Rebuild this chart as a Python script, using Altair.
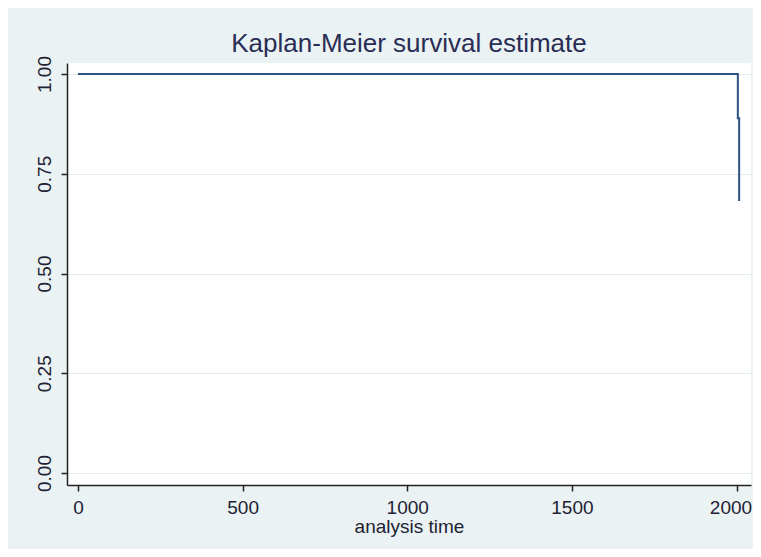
import altair as alt
import pandas as pd

# Kaplan-Meier step data
times = [0, 2004, 2008]
survival = [1.0, 0.889, 0.682]

x_ticks = [0, 500, 1000, 1500, 2000]
y_ticks = [0.0, 0.25, 0.50, 0.75, 1.00]

df = pd.DataFrame({"t": times, "s": survival})

FONT = "Liberation Sans"
TXT = "#222233"
AX = "#222222"

line = alt.Chart(df).mark_line(
    interpolate="step-after", color="#2c5381", strokeWidth=2
).encode(
    x=alt.X(
        "t:Q",
        scale=alt.Scale(domain=[-33.4, 2044], nice=False, zero=False),
        axis=alt.Axis(
            values=x_ticks,
            format="d",
            labelOffset={"condition": {"test": "datum.value == 2000", "value": -6}, "value": 0},
            title="analysis time",
            grid=False,
            tickSize=6,
            labelPadding=7,
            labelFontSize=19,
            labelFont=FONT,
            labelColor=TXT,
            titleFontSize=19,
            titleFont=FONT,
            titleFontWeight="normal",
            titleColor=TXT,
            titleBaseline="alphabetic",
            titleY=47,
            domainColor=AX,
            domainWidth=1.5,
            tickColor=AX,
            tickWidth=1.5,
        ),
    ),
    y=alt.Y(
        "s:Q",
        scale=alt.Scale(domain=[-0.03, 1.0276], nice=False, zero=False),
        axis=alt.Axis(
            values=y_ticks,
            format=".2f",
            title=None,
            grid=True,
            gridColor="#E3ECEC",
            gridWidth=1,
            tickSize=6,
            labelAngle=270,
            labelAlign="center",
            labelBaseline="alphabetic",
            labelPadding=11,
            labelFontSize=19,
            labelFont=FONT,
            labelColor=TXT,
            domainColor=AX,
            domainWidth=1.5,
            tickColor=AX,
            tickWidth=1.5,
        ),
    ),
)

chart = line.properties(
    width=684,
    height=422,
    title=alt.TitleParams(
        "Kaplan-Meier survival estimate",
        fontSize=26,
        font=FONT,
        fontWeight="normal",
        color="#2a2d55",
        anchor="middle",
        baseline="alphabetic",
        offset=10,
        dy=32,
    ),
    autosize=alt.AutoSizeParams(type="none"),
    padding={"left": 59, "top": 55, "right": 2, "bottom": 64},
).configure(background="#EAF2F3").configure_view(fill="white", stroke=None)

chart.save("out.html", embed_options={"renderer": "svg", "actions": False})
